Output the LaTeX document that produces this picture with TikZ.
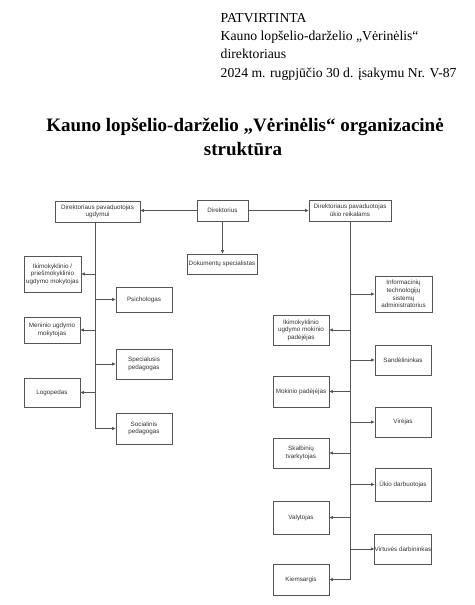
\documentclass[tikz,border=0pt]{standalone}
\usepackage{fontspec}
\setmainfont{Liberation Serif}
\newfontfamily\boxfont{Liberation Sans}
\usetikzlibrary{arrows.meta}
\definecolor{linegray}{HTML}{555555}
\definecolor{txtgray}{HTML}{333333}
\tikzset{
  box/.style={draw=linegray, line width=0.8pt, inner sep=0pt, align=center,
    font=\boxfont\fontsize{6.3}{7.6}\selectfont, text=txtgray, minimum width=56pt},
  conn/.style={draw=linegray, line width=0.8pt, -{Triangle[length=3.5pt,width=3pt]}},
  trunk/.style={draw=linegray, line width=0.8pt},
  hdr/.style={anchor=base west, inner sep=0pt, font=\fontsize{13.7}{16}\selectfont},
  ttl/.style={anchor=base, inner sep=0pt, font=\bfseries\fontsize{19}{22}\selectfont},
}
\begin{document}
\begin{tikzpicture}[x=1pt,y=-1pt]
\path[use as bounding box, fill=white] (0,0) rectangle (474,605);
% header
\node[hdr] (h1) at (220.5,22.7) {PATVIRTINTA};
\node[hdr] (h2) at (220.5,40.5) {Kauno lopšelio-darželio „Vėrinėlis“};
\node[hdr] (h3) at (220.5,58.5) {direktoriaus};
\node[hdr] (h4) at (220.5,77.5) {2024 m. rugpjūčio 30 d. įsakymu Nr. V-87};
% title
\node[ttl] (t1) at (245,131) {Kauno lopšelio-darželio „Vėrinėlis“ organizacinė};
\node[ttl] (t2) at (243,155) {struktūra};
% top row
\node[box, minimum width=85pt, minimum height=21pt] (dpu) at (97.5,211.5) {Direktoriaus pavaduotojas\\ugdymui};
\node[box, minimum width=51pt, minimum height=21pt] (dir) at (222.5,210.5) {Direktorius};
\node[box, minimum width=70pt, minimum height=20pt] (dok) at (222,264) {Dokumentų specialistas};
\node[box, minimum width=82pt, minimum height=21pt] (dpuk) at (350,210.5) {Direktoriaus pavaduotojas\\ūkio reikalams};
% left column
\node[box, minimum width=57pt, minimum height=36pt] (ikim) at (52.5,274) {Ikimokyklinio /\\priešmokyklinio\\ugdymo mokytojas};
\node[box, minimum height=25pt] (psich) at (144,299.5) {Psichologas};
\node[box, minimum height=26pt] (men) at (52,330) {Meninio ugdymo\\mokytojas};
\node[box, minimum height=30pt] (spec) at (144,364) {Specialusis\\pedagogas};
\node[box, minimum height=29pt] (logo) at (52,392.5) {Logopedas};
\node[box, minimum height=31pt] (soc) at (144,428.5) {Socialinis\\pedagogas};
% right column
\node[box, minimum width=57pt, minimum height=36pt] (info) at (403.5,294) {Informacinių\\technologijų\\sistemų\\administratorius};
\node[box, minimum height=30pt] (ikimp) at (301,330) {Ikimokyklinio\\ugdymo mokinio\\padėjėjas};
\node[box, minimum height=30pt] (sand) at (403,360) {Sandėlininkas};
\node[box, minimum height=31pt] (mokp) at (301,391.5) {Mokinio padėjėjas};
\node[box, minimum height=30pt] (vir) at (403,422) {Virėjas};
\node[box, minimum height=30pt] (skalb) at (301,453) {Skalbinių\\tvarkytojas};
\node[box, minimum height=33pt] (ukio) at (403,484.5) {Ūkio darbuotojas};
\node[box, minimum height=33pt] (valyt) at (301,517.5) {Valytojas};
\node[box, minimum height=30pt] (virt) at (403,549) {Virtuvės darbininkas};
\node[box, minimum height=31pt] (kiem) at (301,579.5) {Kiemsargis};
% top connectors
\draw[conn] (dir.west) -- (dpu.east |- dir.west);
\draw[conn] (dir.east) -- (dpuk.west |- dir.east);
\draw[conn] (dir.south) -- (dok.north -| dir.south);
% left trunk
\coordinate (lt) at ([xshift=-2.5pt]dpu.south);
\draw[conn] (lt) |- (soc.west);
\draw[conn] (lt |- ikim.east) -- (ikim.east);
\draw[conn] (lt |- psich.west) -- (psich.west);
\draw[conn] (lt |- men.east) -- (men.east);
\draw[conn] (lt |- spec.west) -- (spec.west);
\draw[conn] (lt |- logo.east) -- (logo.east);
% right trunk
\coordinate (rt) at (dpuk.south);
\draw[conn] (rt) |- (kiem.east);
\draw[conn] (rt |- info.west) -- (info.west);
\draw[conn] (rt |- ikimp.east) -- (ikimp.east);
\draw[conn] (rt |- sand.west) -- (sand.west);
\draw[conn] (rt |- mokp.east) -- (mokp.east);
\draw[conn] (rt |- vir.west) -- (vir.west);
\draw[conn] (rt |- skalb.east) -- (skalb.east);
\draw[conn] (rt |- ukio.west) -- (ukio.west);
\draw[conn] (rt |- valyt.east) -- (valyt.east);
\draw[conn] (rt |- virt.west) -- (virt.west);
\end{tikzpicture}
\end{document}
